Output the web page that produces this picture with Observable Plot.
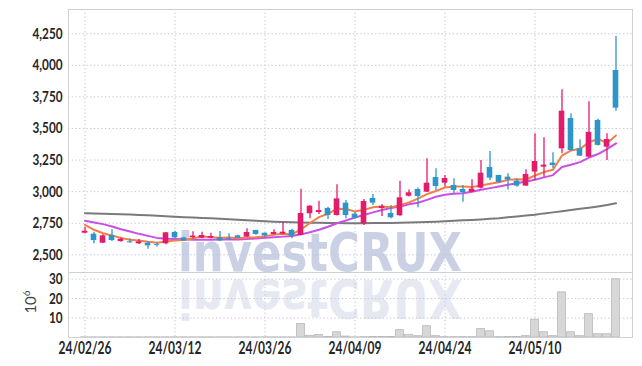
<!DOCTYPE html>
<html><head><meta charset="utf-8">
<script src="https://cdn.jsdelivr.net/npm/d3@7"></script>
<script src="https://cdn.jsdelivr.net/npm/@observablehq/plot@0.6"></script>
<style>
body{margin:0;background:#fff;}
#wrap{position:relative;width:642px;height:366px;overflow:hidden;background:#fff;}
#wrap > svg{position:absolute;left:0;}
</style></head><body><div id="wrap"></div>
<script>
const dates = ["24/02/26","24/02/27","24/02/28","24/02/29","24/03/04","24/03/05","24/03/06","24/03/07","24/03/08","24/03/11",
"24/03/12","24/03/13","24/03/14","24/03/15","24/03/18","24/03/19","24/03/20","24/03/21","24/03/22","24/03/25",
"24/03/26","24/03/27","24/03/28","24/03/29","24/04/01","24/04/02","24/04/03","24/04/04","24/04/05","24/04/08",
"24/04/09","24/04/11","24/04/12","24/04/15","24/04/16","24/04/17","24/04/18","24/04/19","24/04/22","24/04/23",
"24/04/24","24/04/25","24/04/26","24/04/29","24/04/30","24/05/02","24/05/03","24/05/07","24/05/08","24/05/09",
"24/05/10","24/05/13","24/05/14","24/05/16","24/05/17","24/05/20","24/05/21","24/05/22","24/05/23","24/05/24"];
const open  = [2671,2663,2592,2653,2605,2603,2587,2592,2580,2587, 2677,2634,2635,2632,2632,2634,2627,2650,2640,2693,
               2671,2661,2664,2693,2653,2825,2835,2867,2811,2909, 2822,2745,2946,2867,2827,2809,2964,3017,2996,3112,
               3067,3049,3017,2996,3028,3191,3128,3115,3083,3044, 3155,3194,3226,3339,3579,3339,3273,3564,3352,3959];
const high  = [2719,2679,2658,2698,2634,2627,2621,2605,2595,2676, 2687,2640,2683,2679,2671,2685,2666,2655,2706,2695,
               2673,2698,2753,2703,3020,2888,2925,2877,3054,2930, 2835,2938,2978,2898,2890,3083,3014,3028,3260,3181,
               3128,3102,3049,3094,3247,3318,3130,3141,3100,3173, 3458,3426,3308,3806,3616,3411,3711,3574,3458,4229];
const low   = [2666,2587,2590,2605,2600,2592,2582,2545,2561,2579, 2627,2605,2625,2627,2627,2608,2613,2630,2638,2655,
               2640,2656,2658,2627,2650,2785,2819,2780,2808,2785, 2782,2732,2890,2803,2785,2805,2957,2872,2994,3009,
               3036,2983,2917,2994,3022,3088,3065,3014,3035,3042, 3089,3115,3181,3300,3320,3278,3270,3362,3247,3637];
const close = [2687,2613,2650,2613,2624,2595,2603,2571,2574,2674, 2634,2610,2648,2653,2645,2610,2619,2632,2677,2661,
               2650,2677,2679,2645,2827,2885,2851,2811,2943,2811, 2790,2922,2909,2883,2793,2951,2991,2962,3067,3041,
               3104,3009,2993,3020,3146,3107,3073,3094,3044,3136, 3239,3210,3207,3637,3326,3281,3469,3366,3413,3661];
const volume = [0.1,0.1,0.1,0.1,0.1,0.1,0.1,0.1,0.1,0.1, 0.1,0.1,0.1,0.1,0.1,0.1,0.1,0.1,0.1,0.1,
                0.1,0.1,0.1,0.1,6.9,0.9,1.3,0.3,2.7,0.5, 0.1,0.2,0.3,0.3,0.3,3.8,1.4,0.7,5.8,0.7,
                0.2,0.2,0.2,0.2,4.3,3.2,0.2,0.3,0.3,0.7, 9.1,2.7,0.7,23.2,2.7,0.7,12.0,1.7,1.7,29.9];
const ma5  = [2737,2698,2671,2653,2634,2619,2613,2603,2595,2605, 2613,2618,2630,2645,2640,2635,2637,2632,2637,2640,
              2648,2659,2667,2663,2700,2752,2798,2825,2865,2862, 2843,2856,2877,2883,2877,2893,2915,2945,2980,3005,
              3033,3040,3041,3036,3049,3062,3075,3094,3098,3096, 3128,3155,3173,3286,3326,3339,3390,3418,3384,3445];
const ma10 = [2769,2756,2743,2724,2703,2685,2666,2650,2634,2627, 2625,2624,2620,2620,2620,2621,2621,2622,2625,2630,
              2636,2640,2644,2649,2662,2679,2698,2722,2750,2772, 2795,2815,2836,2855,2870,2882,2900,2912,2935,2960,
              2976,2983,2988,2999,3015,3028,3041,3055,3067,3080, 3094,3113,3131,3195,3213,3234,3270,3298,3336,3382];
const ma60 = [2830,2828,2826,2824,2822,2819,2816,2813,2810,2806, 2802,2798,2795,2792,2789,2785,2781,2777,2773,2769,
              2765,2762,2759,2757,2755,2754,2753,2752,2751,2750, 2750,2750,2751,2751,2752,2753,2755,2757,2759,2762,
              2765,2769,2773,2776,2780,2785,2790,2797,2804,2811, 2818,2828,2836,2845,2855,2864,2873,2883,2894,2908];
const tickDates = ["24/02/26","24/03/12","24/03/26","24/04/09","24/04/24","24/05/10"];
const priceTicks = [2500,2750,3000,3250,3500,3750,4000,4250];
const volTicks = [10,20,30];

const data = dates.map((d,i)=>({date:d, open:open[i], high:high[i], low:low[i], close:close[i],
  volume:volume[i], ma5:ma5[i], ma10:ma10[i], ma60:ma60[i]}));

const FONT = "Lato, 'DejaVu Sans', sans-serif";
const UP = "#e31b6b", DOWN = "#2e95c8";
const col = d => d.close >= d.open ? UP : DOWN;
const grid = {stroke:"#bfc6dc", strokeOpacity:1, strokeDasharray:"1.3,2.4", strokeWidth:1};
const xScale = {type:"band", domain:dates, padding:0, label:null};
const tickText = {tickSize:0, fontWeight:"bold", fill:"#262626", stroke:"#262626", strokeWidth:0.45, label:null};
const wrap = document.getElementById("wrap");

// watermark (behind)
const ns = "http://www.w3.org/2000/svg";
const wm = document.createElementNS(ns,"svg");
wm.setAttribute("width",642); wm.setAttribute("height",366); wm.style.top="0px";
wm.innerHTML = `
<text x="178" y="271" font-family="DejaVu Sans, sans-serif" font-weight="bold" font-size="54" textLength="284" lengthAdjust="spacingAndGlyphs" fill="#cbd1e4">investCRUX</text>
<g transform="translate(0,551) scale(1,-1)"><text x="178" y="271" font-family="DejaVu Sans, sans-serif" font-weight="bold" font-size="54" textLength="284" lengthAdjust="spacingAndGlyphs" fill="#e6e9f1">investCRUX</text></g>
<text transform="translate(36,302) rotate(-90)" text-anchor="middle" font-family="${FONT}" font-size="15" fill="#444">10<tspan dy="-6" font-size="10">6</tspan></text>`;
wrap.appendChild(wm);

const price = Plot.plot({
  width:642, height:272, marginTop:9, marginBottom:0, marginLeft:68, marginRight:10,
  style:{fontFamily:FONT, background:"transparent", overflow:"visible"},
  x:{...xScale, axis:null}, y:{domain:[2360,4442], label:null},
  marks:[
    Plot.gridX(tickDates, grid),
    Plot.gridY(priceTicks, grid),
    Plot.frame({stroke:"#cdd0d6"}),
    Plot.axisY(priceTicks, {...tickText, tickPadding:6, tickFormat:d3.format(","), fontSize:15.5}),
    Plot.lineY(data, {x:"date", y:"ma60", stroke:"#7a7a7a", strokeWidth:2}),
    Plot.lineY(data, {x:"date", y:"ma10", stroke:"#c94fe6", strokeWidth:2}),
    Plot.lineY(data, {x:"date", y:"ma5", stroke:"#ef8048", strokeWidth:2}),
    Plot.ruleX(data, {x:"date", y1:"low", y2:"high", stroke:col, strokeWidth:1.3}),
    Plot.barY(data, {x:"date", y1:"open", y2:"close", fill:col, insetLeft:1.7, insetRight:1.7})
  ]
});
price.style.top = "0px";
wrap.appendChild(price);

const vol = Plot.plot({
  width:642, height:94, marginTop:0, marginBottom:29, marginLeft:68, marginRight:10,
  style:{fontFamily:FONT, background:"transparent", overflow:"visible"},
  x:xScale, y:{domain:[0,33.4], label:null},
  marks:[
    Plot.gridX(tickDates, grid),
    Plot.gridY(volTicks, grid),
    Plot.barY(data, {x:"date", y:"volume", fill:"#d7d7d7", stroke:"#b9b9b9", strokeWidth:0.8, insetLeft:0.6, insetRight:0.6}),
    Plot.frame({stroke:"#cdd0d6"}),
    Plot.axisY(volTicks, {...tickText, tickPadding:6, fontSize:15.5}),
    Plot.axisX({...tickText, ticks:tickDates, tickPadding:5, fontSize:16.5})
  ]
});
vol.style.top = "272px";
wrap.appendChild(vol);

// condense tick labels to the narrow face of the original (target widths)
function condense(sel, sample, target) {
  const ts = [...wrap.querySelectorAll(sel)];
  const ref = ts.find(t => t.textContent === sample);
  const f = ref ? target / ref.getComputedTextLength() : 0.8;
  ts.forEach(t => {
    t.setAttribute("textLength", (t.getComputedTextLength() * f).toFixed(1));
    t.setAttribute("lengthAdjust", "spacingAndGlyphs");
  });
}
condense('g[aria-label="y-axis tick label"] text', "2,750", 30);
condense('g[aria-label="x-axis tick label"] text', "24/02/26", 53);
</script></body></html>
